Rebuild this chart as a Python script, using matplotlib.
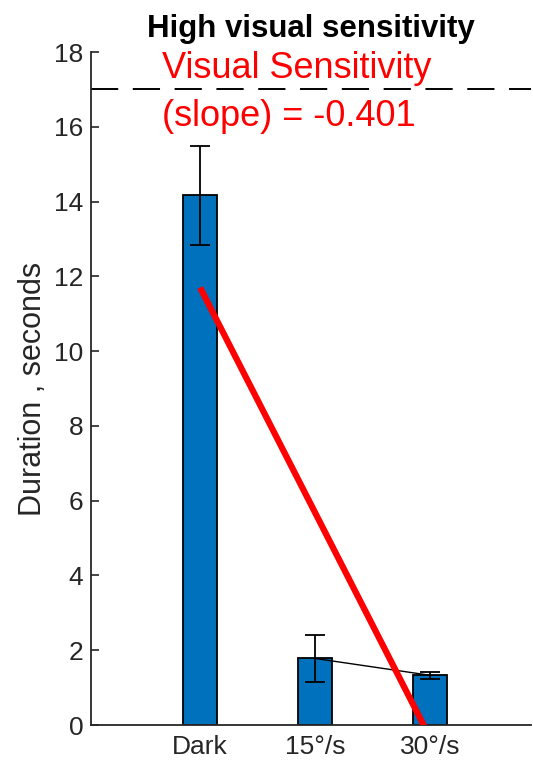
import matplotlib
matplotlib.use("Agg")
import matplotlib.pyplot as plt
import numpy as np

plt.rcParams['font.family'] = ['Liberation Sans', 'DejaVu Sans']

# condition labels and their stimulus speed (deg/s)
conditions = ['Dark', '15°/s', '30°/s']
speeds = [0, 15, 30]
durations = [14.17, 1.78, 1.33]
errors = [1.33, 0.63, 0.10]

# fitted line: duration vs speed
slope = -0.401
intercept = 11.7
threshold = 17.0

axis_col = '#262626'

fig = plt.figure(figsize=(5.33, 7.63), dpi=100)
ax = fig.add_axes([0.1707, 0.0498, 0.8255, 0.882])

x = np.arange(1, len(conditions) + 1)
ax.bar(x, durations, width=0.30, color='#0072BD', edgecolor='black', linewidth=1.3, zorder=2)
ax.errorbar(x, durations, yerr=errors, fmt='none', ecolor='black', elinewidth=1.3,
            capsize=7.5, capthick=1.3, zorder=3)

# thin line joining the two moving conditions
ax.plot(x[1:], durations[1:], color='black', linewidth=1.0, zorder=3)

# regression line, speed mapped onto bar positions
sp = np.array([0, 30])
ax.plot(1 + sp / 15, intercept + slope * sp, color='red', linewidth=4.5,
        solid_capstyle='butt', zorder=4)

ax.axhline(threshold, color='black', linewidth=1.4, dashes=(14, 7.5), zorder=1)

ax.text(0.67, 16.92, 'Visual Sensitivity\n(slope) = %.3f' % slope, color='red',
        fontsize=26, ha='left', va='center', linespacing=1.5, zorder=5)

ax.set_xlim(0.05, 3.88)
ax.set_ylim(0, 18)
ax.set_xticks(x)
ax.set_xticklabels(conditions)
ax.set_yticks(np.arange(0, 19, 2))
ax.tick_params(direction='in', length=6, width=1.2, colors=axis_col, labelsize=19,
               labelcolor=axis_col)
ax.tick_params(axis='y', pad=5.5)
ax.tick_params(axis='x', colors='black', labelcolor=axis_col, pad=7)
for s in ['top', 'right']:
    ax.spines[s].set_visible(False)
for s in ['left', 'bottom']:
    ax.spines[s].set_color(axis_col)
    ax.spines[s].set_linewidth(1.3)

ax.set_ylabel('Duration , seconds', fontsize=22, color=axis_col, labelpad=4)
ax.set_title('High visual sensitivity', fontsize=22.5, fontweight='bold', pad=11)

fig.savefig('out.png', dpi=100)
